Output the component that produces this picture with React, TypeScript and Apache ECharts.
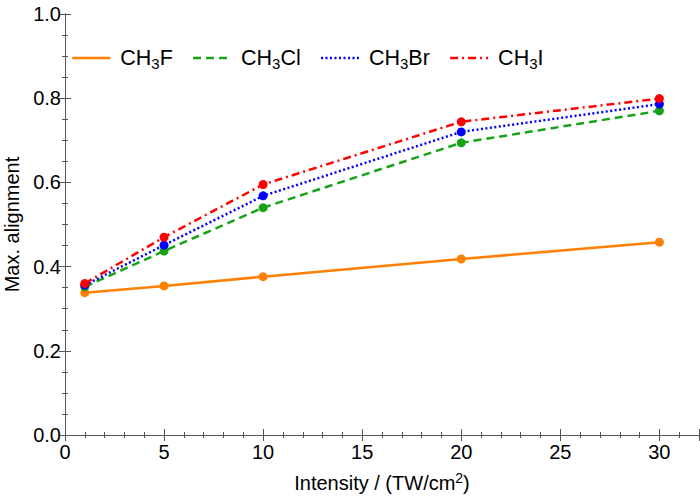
import React, { useEffect, useRef } from "react";
import * as echarts from "echarts";

const intensities = [1, 5, 10, 20, 30];
const ch3f = [0.338, 0.354, 0.376, 0.418, 0.458];
const ch3cl = [0.352, 0.437, 0.540, 0.694, 0.770];
const ch3br = [0.356, 0.451, 0.568, 0.720, 0.786];
const ch3i = [0.360, 0.470, 0.595, 0.744, 0.799];
const seriesNames = ["CH3F", "CH3Cl", "CH3Br", "CH3I"];
const legendParts: Record<string, [string, string, string]> = {
  CH3F: ["CH", "3", "F"],
  CH3Cl: ["CH", "3", "Cl"],
  CH3Br: ["CH", "3", "Br"],
  CH3I: ["CH", "3", "I"],
};
const colors = ["#ff8000", "#16a416", "#0000ff", "#ff0000"];
const dashes: any[] = ["solid", [8, 5], [2, 2.5], [8, 4, 2, 4]];

const FONT = "Liberation Sans";

export default function App() {
  const ref = useRef<HTMLDivElement>(null);
  useEffect(() => {
    const chart = echarts.init(ref.current!, null, { renderer: "svg" });
    const values = [ch3f, ch3cl, ch3br, ch3i];
    const axisLine = { show: true, lineStyle: { color: "#555", width: 1 } };
    const option: any = {
      animation: false,
      backgroundColor: "#fff",
      grid: { left: 65, right: 1, top: 14, bottom: 65, containLabel: false, outerBoundsMode: "none" },
      legend: {
        left: 71,
        top: 47,
        padding: 0,
        itemWidth: 38,
        itemHeight: 12,
        itemGap: 19,
        itemStyle: { opacity: 0 },
        lineStyle: { width: 2.5 },
        data: seriesNames,
        formatter: (name: string) => {
          const p = legendParts[name];
          return `{a|${p[0]}}{s|${p[1]}}{a|${p[2]}}`;
        },
        textStyle: {
          fontFamily: FONT,
          rich: {
            a: { fontSize: 21.5, fontFamily: FONT, color: "#000" },
            s: { fontSize: 15, fontFamily: FONT, color: "#000", padding: [10, 0, 0, 0] },
          },
          padding: [0, 0, 0, 5],
        },
      },
      xAxis: [
        {
          type: "value",
          min: 0,
          max: 32,
          interval: 5,
          position: "bottom",
          name: "{a|Intensity / (TW/cm}{s|2}{a|)}",
          nameLocation: "middle",
          nameGap: 36,
          nameTextStyle: {
            rich: {
              a: { fontSize: 20, fontFamily: FONT, color: "#000" },
              s: { fontSize: 14, fontFamily: FONT, color: "#000", padding: [0, 0, 10, 0] },
            },
          },
          axisLine,
          axisTick: { inside: true, length: 6, lineStyle: { color: "#555" } },
          minorTick: { show: true, splitNumber: 5, length: 3, lineStyle: { color: "#555" } },
          axisLabel: {
            fontSize: 20,
            fontFamily: FONT,
            color: "#000",
            margin: 7,
            showMaxLabel: false,
          },
          splitLine: { show: false },
        },
        {
          type: "value",
          min: 0,
          max: 32,
          interval: 5,
          position: "top",
          axisLine,
          axisTick: { inside: true, length: 6, lineStyle: { color: "#555" } },
          minorTick: { show: true, splitNumber: 5, length: 3, lineStyle: { color: "#555" } },
          axisLabel: { show: false },
          splitLine: { show: false },
        },
      ],
      yAxis: [
        {
          type: "value",
          min: 0,
          max: 1,
          interval: 0.2,
          position: "left",
          name: "Max. alignment",
          nameLocation: "middle",
          nameGap: 41,
          nameTextStyle: { fontSize: 20, fontFamily: FONT, color: "#000" },
          axisLine,
          axisTick: { inside: true, length: 6, lineStyle: { color: "#555" } },
          minorTick: { show: true, splitNumber: 4, length: 3, lineStyle: { color: "#555" } },
          axisLabel: {
            fontSize: 20,
            fontFamily: FONT,
            color: "#000",
            margin: 4,
            formatter: (v: number) => v.toFixed(1),
          },
          splitLine: { show: false },
        },
        {
          type: "value",
          min: 0,
          max: 1,
          interval: 0.2,
          position: "right",
          axisLine,
          axisTick: { inside: true, length: 6, lineStyle: { color: "#555" } },
          minorTick: { show: true, splitNumber: 4, length: 3, lineStyle: { color: "#555" } },
          axisLabel: { show: false },
          splitLine: { show: false },
        },
      ],
      series: seriesNames.map((name, i) => ({
        name,
        type: "line",
        xAxisIndex: 0,
        yAxisIndex: 0,
        data: intensities.map((x, j) => [x, values[i][j]]),
        symbol: "circle",
        symbolSize: 9,
        showSymbol: true,
        color: colors[i],
        itemStyle: { color: colors[i] },
        lineStyle: { color: colors[i], width: 2.5, type: dashes[i] },
        z: 2 + i,
      })),
    };
    chart.setOption(option);
    return () => chart.dispose();
  }, []);
  return (
    <div
      ref={ref}
      style={{ position: "fixed", left: 0, top: 0, width: 700, height: 500, background: "#fff" }}
    />
  );
}
